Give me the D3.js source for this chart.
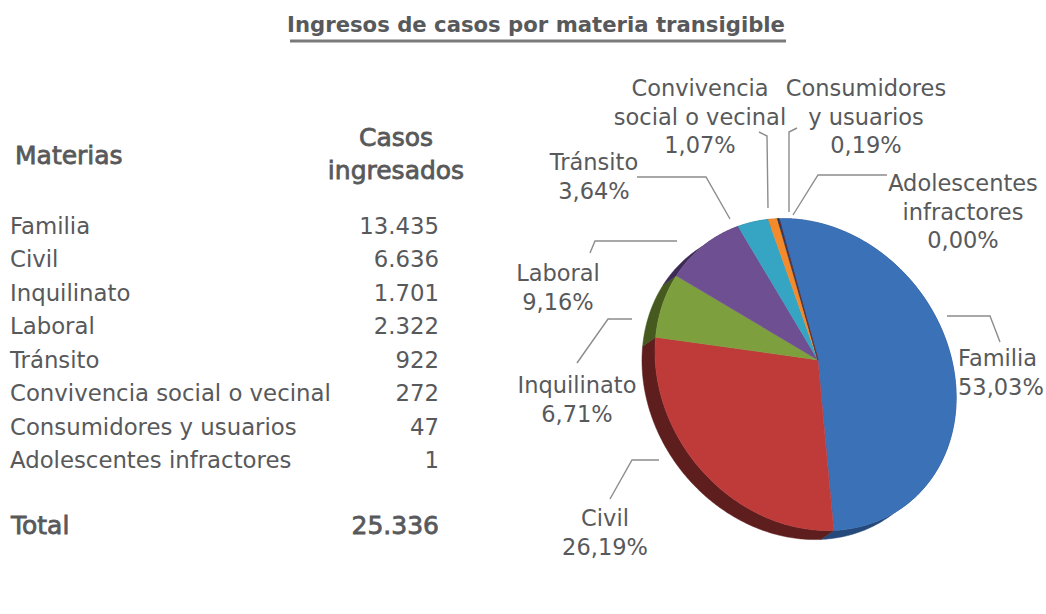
<!DOCTYPE html>
<html><head><meta charset="utf-8">
<script src="https://cdn.jsdelivr.net/npm/d3@7"></script>
<style>
body{margin:0;background:#fff}
text{font-family:"DejaVu Sans",sans-serif;fill:#58595b}
</style>
</head><body>
<svg id="chart" width="1046" height="614"></svg>
<script>
// ---------- DATA ----------
const categories = ["Familia","Civil","Inquilinato","Laboral","Tránsito","Convivencia social o vecinal","Consumidores y usuarios","Adolescentes infractores"];
const casos = [13435, 6636, 1701, 2322, 922, 272, 47, 1];
const pieLabelLines = [["Familia"],["Civil"],["Inquilinato"],["Laboral"],["Tránsito"],["Convivencia","social o vecinal"],["Consumidores","y usuarios"],["Adolescentes","infractores"]];
const titleText = "Ingresos de casos por materia transigible";
const headerMaterias = "Materias";
const headerCasos = ["Casos","ingresados"];
const totalLabel = "Total";

// ---------- STYLE / LAYOUT ----------
const topColors  = ["#3A71B7","#BE3B3A","#7E9F3D","#6E4F92","#36A5C3","#F58A2A","#1F3A5F","#7a2c2a"];
const sideColors = ["#24497a","#5E1E1E","#465a20","#3d2a55","#1e6275","#9a5010","#10203a","#4a1a19"];
const labelLayout = [
  {x:958, y:358, anchor:"start",  leader:[[947,316],[990,316],[1000,342]]},
  {x:605, y:518, anchor:"middle", leader:[[659,460],[632,460],[610,499]]},
  {x:577, y:385, anchor:"middle", leader:[[632,319],[608,319],[577,363]]},
  {x:558, y:273, anchor:"middle", leader:[[677,241],[595,241],[590,253]]},
  {x:594, y:162, anchor:"middle", leader:[[637,177],[706,177],[730,219]]},
  {x:700, y:88,  anchor:"middle", leader:[[759,132],[767,136],[768,208]]},
  {x:866, y:88,  anchor:"middle", leader:[[797,128],[789,132],[789,212]]},
  {x:963, y:183, anchor:"middle", leader:[[887,175],[818,175],[793,215]]}
];
// 3-D view of the pie: centre, radius, planar tilt matrix, shift and perspective
const pieView = {cx:803, cy:373, r:150, A:[[0.951,0.280],[-0.1325,1.017]], t:[0.0994,-0.0875], p:[0.1087,-0.0806]};
const sideOffset = [-13, 9];

const locale = d3.formatLocale({decimal:",", thousands:".", grouping:[3], currency:["",""]});
const fmtInt = locale.format(",d");
const fmtPct = locale.format(".2f");

const svg = d3.select("#chart");
svg.append("rect").attr("width",1046).attr("height",614).attr("fill","#fff");

// Title
svg.append("text").attr("x",536).attr("y",32).attr("text-anchor","middle")
  .style("font-weight","bold").style("font-size","21.2px").text(titleText);
svg.append("line").attr("x1",290).attr("x2",786).attr("y1",41).attr("y2",41)
  .attr("stroke","#7a7a7a").attr("stroke-width",3);

// ---------- TABLE ----------
const total = d3.sum(casos);
const yRow = d3.scalePoint().domain(categories).range([226, 460]);
const semibold = sel => sel.attr("stroke","#58595b").attr("stroke-width",0.8);
semibold(svg.append("text").attr("x",15).attr("y",164).style("font-size","25px").text(headerMaterias));
headerCasos.forEach((t,i)=> semibold(svg.append("text").attr("x",396).attr("y",146+i*33)
  .attr("text-anchor","middle").style("font-size","25px").text(t)));
const rows = svg.append("g").selectAll("g").data(categories).join("g")
  .attr("transform", d=>`translate(0,${yRow(d)+8})`);
rows.append("text").attr("x",10).style("font-size","22.8px").text(d=>d);
rows.append("text").attr("x",439).attr("text-anchor","end").style("font-size","22.8px")
  .text((d,i)=>fmtInt(casos[i]));
semibold(svg.append("text").attr("x",11).attr("y",534).style("font-size","25px").text(totalLabel));
semibold(svg.append("text").attr("x",439).attr("y",534).attr("text-anchor","end").style("font-size","25px").text(fmtInt(total)));

// ---------- PIE (perspective) ----------
const arcs = d3.pie().sort(null).value(d=>d)(casos);
function proj(a, rr){
  const u = rr*Math.sin(a), v = -rr*Math.cos(a), V = pieView;
  const w = 1 + V.p[0]*u + V.p[1]*v;
  const X = (V.A[0][0]*u + V.A[0][1]*v)/w + V.t[0];
  const Y = (V.A[1][0]*u + V.A[1][1]*v)/w + V.t[1];
  return [V.cx + V.r*X, V.cy + V.r*Y];
}
const line = d3.line();
function rim(a0,a1){ const n=Math.max(2,Math.ceil((a1-a0)/0.01)); return d3.range(n+1).map(k=>proj(a0+(a1-a0)*k/n,1)); }

const gPie = svg.append("g");
gPie.selectAll("path.side").data(arcs).join("path").attr("class","side")
  .attr("fill",(d,i)=>sideColors[i]).attr("stroke",(d,i)=>sideColors[i]).attr("stroke-width",0.5)
  .attr("d", d=>{ const r=rim(d.startAngle,d.endAngle);
    return line(r.concat(r.slice().reverse().map(p=>[p[0]+sideOffset[0],p[1]+sideOffset[1]])))+"Z"; });
gPie.selectAll("path.top").data(arcs).join("path").attr("class","top")
  .attr("fill",(d,i)=>topColors[i]).attr("stroke",(d,i)=>topColors[i]).attr("stroke-width",0.5)
  .attr("d", d=> line([proj(0,0)].concat(rim(d.startAngle,d.endAngle)))+"Z");

// ---------- PIE LABELS ----------
const gLab = svg.append("g");
labelLayout.forEach((L,i)=>{
  gLab.append("path").attr("d", line(L.leader)).attr("fill","none").attr("stroke","#8c8c8c").attr("stroke-width",1.4);
  const lines = pieLabelLines[i].concat([fmtPct(casos[i]/total*100)+"%"]);
  lines.forEach((t,k)=> gLab.append("text").attr("x",L.x).attr("y",L.y+8+k*28.5)
    .attr("text-anchor",L.anchor).style("font-size","22.5px").text(t));
});
</script>
</body></html>
